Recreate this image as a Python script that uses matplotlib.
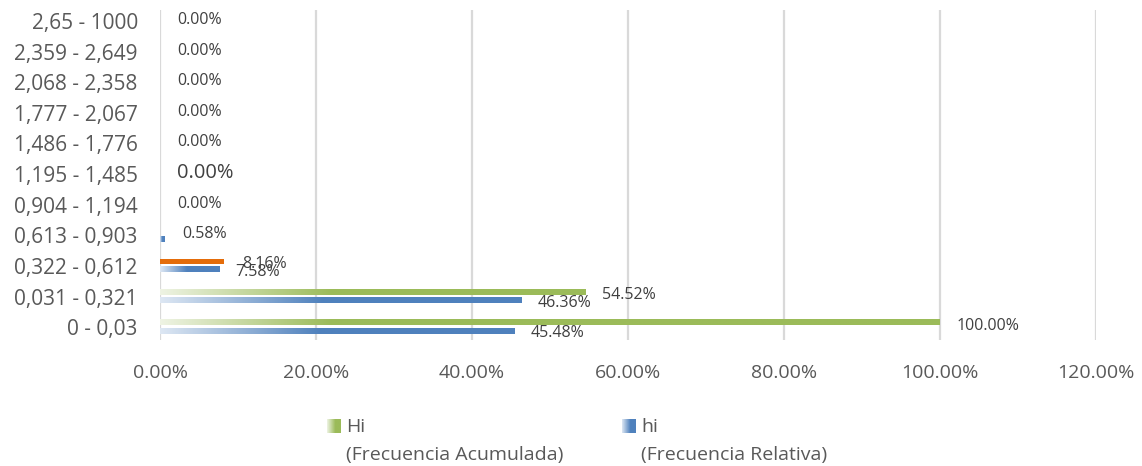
import numpy as np
import matplotlib.pyplot as plt
from matplotlib.colors import to_rgb

plt.rcParams["font.family"] = ["Open Sans", "DejaVu Sans"]

# --- datos: intervalos (de abajo hacia arriba) y frecuencias en % ---
intervalos = ["0 - 0,03", "0,031 - 0,321", "0,322 - 0,612", "0,613 - 0,903",
              "0,904 - 1,194", "1,195 - 1,485", "1,486 - 1,776", "1,777 - 2,067",
              "2,068 - 2,358", "2,359 - 2,649", "2,65 - 1000"]
Hi = [100.00, 54.52, 8.16, 0.00, 0.00, 0.00, 0.00, 0.00, 0.00, 0.00, 0.00]
hi = [45.48, 46.36, 7.58, 0.58, 0.00, 0.00, 0.00, 0.00, 0.00, 0.00, 0.00]
xticks = [0, 20, 40, 60, 80, 100, 120]

VERDE = "#9bbb59"
AZUL = "#4f81bd"
NARANJA = "#e46c0a"
VERDE_CLARO = "#eef3e3"
AZUL_CLARO = "#dde7f3"
GRIS_TXT = "#595959"
GRIS_LBL = "#404040"
GRIS_GRID = "#d9d9d9"

W, H = 1142, 466
fig = plt.figure(figsize=(W / 100, H / 100), dpi=100)
ax = fig.add_axes([160 / W, 1 - 340 / H, (1096 - 160) / W, 330 / H])


def gradiente(ancho, c0, c1, n=256):
    # claro a la izquierda, color pleno hacia la derecha
    u = np.linspace(0, 1, n)
    rampa = min(0.45 * ancho, 22) if ancho > 0 else 1
    t = np.clip(u * ancho / rampa, 0, 1)[:, None]
    a, b = np.array(to_rgb(c0)), np.array(to_rgb(c1))
    return (a + (b - a) * t)[None, :, :]


def pintar(barras, c0, c1, solido=None):
    for k, p in enumerate(barras.patches):
        x0, y0 = p.get_x(), p.get_y()
        w, h = p.get_width(), p.get_height()
        p.set_facecolor("none")
        p.set_edgecolor("none")
        if w <= 0:
            continue
        if solido is not None and k in solido:
            p.set_facecolor(solido[k])
            continue
        ax.imshow(gradiente(w, c0, c1), extent=[x0, x0 + w, y0, y0 + h],
                  aspect="auto", interpolation="bilinear", zorder=3)


y = np.arange(len(intervalos))
alto = 0.165
b_Hi = ax.barh(y + 0.145, Hi, height=alto, zorder=3)
b_hi = ax.barh(y - 0.13, hi, height=alto, zorder=3)
pintar(b_Hi, VERDE_CLARO, VERDE, solido={2: NARANJA})
pintar(b_hi, AZUL_CLARO, AZUL)

# etiquetas de datos
for i in range(3):
    ax.annotate(f"{Hi[i]:.2f}%", (Hi[i], y[i] + 0.145),
                xytext=(17 if i < 2 else 19, -3 if i < 2 else -3),
                textcoords="offset pixels", ha="left", va="center",
                fontsize=11.5, color=GRIS_LBL, zorder=5)
    ax.annotate(f"{hi[i]:.2f}%", (hi[i], y[i] - 0.13),
                xytext=(16, -2), textcoords="offset pixels",
                ha="left", va="center", fontsize=11.5, color=GRIS_LBL, zorder=5)
for i in range(3, len(intervalos)):
    ax.annotate(f"{hi[i]:.2f}%", (hi[i], y[i]),
                xytext=(17 if i > 3 else 18, 1), textcoords="offset pixels",
                ha="left", va="center", fontsize=14.5 if i == 5 else 11.5,
                color=GRIS_LBL, zorder=5)

ax.set_xlim(0, 120)
ax.set_ylim(-0.42, 10.36)
ax.set_xticks(xticks)
ax.set_xticklabels([f"{v:.2f}%" for v in xticks])
ax.set_yticks(y)
ax.set_yticklabels(intervalos)
ax.tick_params(axis="both", length=0, colors=GRIS_TXT)
ax.tick_params(axis="y", labelsize=15, pad=16)
ax.tick_params(axis="x", labelsize=14, pad=17)
ax.grid(axis="x", color=GRIS_GRID, linewidth=1.6, zorder=0)
ax.set_axisbelow(True)
for s in ax.spines.values():
    s.set_visible(False)

# leyenda manual con muestras degradadas
leyenda = [("Hi", "(Frecuencia Acumulada)", VERDE_CLARO, VERDE, 327),
           ("hi", "(Frecuencia Relativa)", AZUL_CLARO, AZUL, 622)]
for nombre, desc, c0, c1, x in leyenda:
    m = fig.add_axes([x / W, 1 - 433 / H, 14 / W, 14 / H])
    u = np.clip(np.linspace(0, 1, 64) / 0.6, 0, 1)[:, None]
    a, b = np.array(to_rgb(c0)), np.array(to_rgb(c1))
    m.imshow((a + (b - a) * u)[None, :, :], aspect="auto")
    m.axis("off")
    fig.text((x + 19) / W, 1 - 427 / H, nombre, fontsize=14,
             color=GRIS_TXT, va="center", ha="left")
    fig.text((x + 19) / W, 1 - 455 / H, desc, fontsize=14,
             color=GRIS_TXT, va="center", ha="left")

fig.savefig("out.png", dpi=100)
